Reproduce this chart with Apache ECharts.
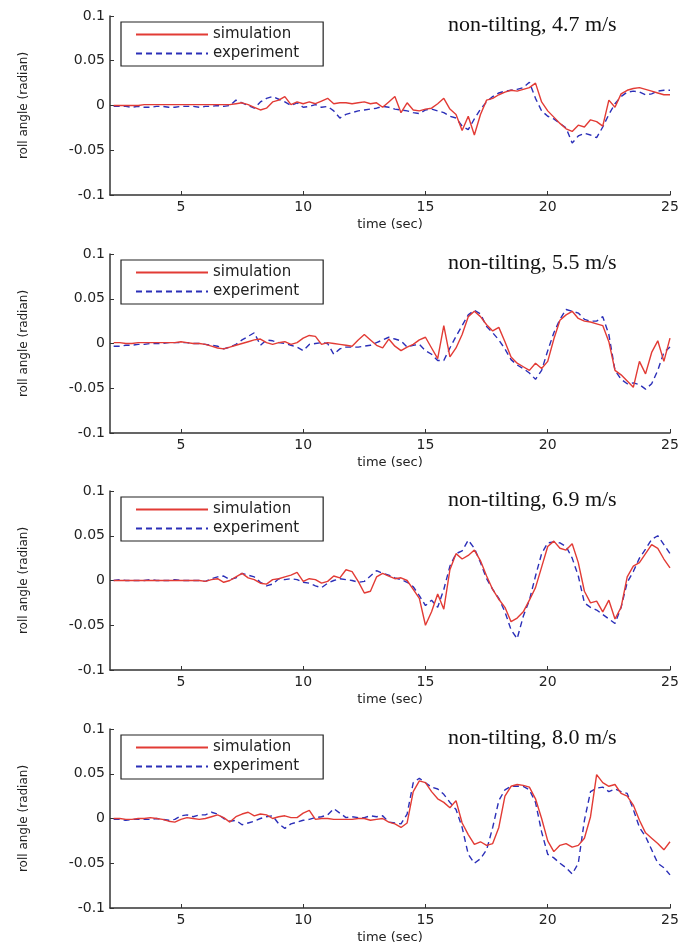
<!DOCTYPE html>
<html><head><meta charset="utf-8">
<script src="https://cdn.jsdelivr.net/npm/echarts@6/dist/echarts.min.js"></script>
<style>html,body{margin:0;padding:0;background:#fff}#c{width:683px;height:947px}</style>
</head><body><div id="c"></div>
<script>
const panelTitles = ["non-tilting, 4.7 m/s","non-tilting, 5.5 m/s","non-tilting, 6.9 m/s","non-tilting, 8.0 m/s"];
const seriesNames = ["simulation","experiment"];
const xTicks = [5,10,15,20,25];
const yTicks = [-0.1,-0.05,0,0.05,0.1];
const time = [2.25,2.5,2.75,3,3.25,3.5,3.75,4,4.25,4.5,4.75,5,5.25,5.5,5.75,6,6.25,6.5,6.75,7,7.25,7.5,7.75,8,8.25,8.5,8.75,9,9.25,9.5,9.75,10,10.25,10.5,10.75,11,11.25,11.5,11.75,12,12.25,12.5,12.75,13,13.25,13.5,13.75,14,14.25,14.5,14.75,15,15.25,15.5,15.75,16,16.25,16.5,16.75,17,17.25,17.5,17.75,18,18.25,18.5,18.75,19,19.25,19.5,19.75,20,20.25,20.5,20.75,21,21.25,21.5,21.75,22,22.25,22.5,22.75,23,23.25,23.5,23.75,24,24.25,24.5,24.75,25];

const sim1 = [0,0,0,0, 0,0.001,0.001,0.001, 0.001,0.001,0.001,0.001, 0.001,0.001,0.001,0.001, 0.001,0.001,0.001,0.001,
 0.002,0.003,0.001,-0.002, -0.005,-0.003,0.004,0.006, 0.01,0.001,0.004,0.002, 0.004,0.002,0.005,0.008, 0.002,0.003,0.003,0.002,
 0.003,0.004,0.002,0.003, -0.002,0.004,0.01,-0.008, 0.003,-0.005,-0.006,-0.004, -0.003,0.002,0.008,-0.004, -0.01,-0.028,-0.012,-0.033,
 -0.01,0.006,0.008,0.012, 0.015,0.017,0.016,0.018, 0.02,0.025,0.004,-0.006, -0.013,-0.02,-0.026,-0.029, -0.022,-0.024,-0.016,-0.018,
 -0.023,0.006,-0.002,0.013, 0.017,0.019,0.02,0.018, 0.016,0.014,0.012,0.012];
const exp1 = [-0.001,-0.001,-0.001,-0.002, -0.001,-0.002,-0.002,-0.001, -0.001,-0.002,-0.002,-0.001, -0.001,-0.001,-0.002,-0.001, -0.001,0,-0.001,0,
 0.006,0.003,0,-0.003, 0.004,0.008,0.01,0.007, 0.004,0,0.003,-0.002, -0.001,0.001,-0.002,-0.001, -0.006,-0.014,-0.01,-0.008,
 -0.006,-0.005,-0.004,-0.003, -0.001,-0.002,-0.004,-0.005, -0.006,-0.008,-0.009,-0.005, -0.004,-0.006,-0.008,-0.012, -0.014,-0.023,-0.027,-0.015,
 -0.004,0.004,0.01,0.014, 0.016,0.017,0.018,0.02, 0.026,0.008,-0.006,-0.012, -0.015,-0.02,-0.025,-0.042, -0.034,-0.031,-0.033,-0.036,
 -0.024,-0.01,0.002,0.01, 0.015,0.016,0.015,0.012, 0.013,0.016,0.017,0.017];

const sim2 = [0.001,0.001,0,0, 0.001,0.001,0.001,0.001, 0.001,0.001,0.001,0.002, 0.001,0,0,-0.001, -0.003,-0.005,-0.006,-0.004,
 -0.002,0,0.002,0.004, 0.005,0.001,-0.001,0.001, 0.002,-0.001,0.001,0.006, 0.009,0.008,-0.001,0.001, 0,-0.001,-0.002,-0.003,
 0.004,0.01,0.004,-0.002, -0.005,0.005,-0.003,-0.008, -0.004,-0.001,0.004,0.007, -0.005,-0.017,0.02,-0.015, -0.005,0.01,0.03,0.036,
 0.03,0.021,0.014,0.018, 0.002,-0.015,-0.022,-0.026, -0.03,-0.022,-0.028,-0.02, 0.005,0.026,0.032,0.036, 0.028,0.025,0.024,0.022,
 0.02,0.002,-0.03,-0.035, -0.042,-0.049,-0.02,-0.034, -0.01,0.003,-0.02,0.006];
const exp2 = [-0.003,-0.003,-0.002,-0.002, -0.001,-0.001,0,0, 0,0.001,0.001,0.001, 0.001,0,0,-0.001, -0.002,-0.003,-0.006,-0.004,
 -0.001,0.004,0.008,0.012, -0.002,0.004,0.003,0.001, 0,-0.002,-0.004,-0.008, -0.001,0,0.001,0, -0.012,-0.006,-0.004,-0.004,
 -0.004,-0.003,-0.002,0.001, 0.004,0.007,0.005,0.003, -0.004,-0.002,-0.001,-0.008, -0.012,-0.019,-0.019,-0.005, 0.008,0.02,0.032,0.037,
 0.033,0.019,0.012,0.004, -0.006,-0.018,-0.024,-0.028, -0.033,-0.04,-0.03,-0.008, 0.012,0.027,0.038,0.036, 0.034,0.027,0.025,0.025,
 0.03,0.01,-0.03,-0.04, -0.045,-0.044,-0.046,-0.051, -0.045,-0.03,-0.01,-0.004];

const sim3 = [0,0,0,0, 0,0,0,0, 0,0,0,0, 0,0,0,-0.001, 0.001,0.002,-0.002,0,
 0.004,0.008,0.003,0.001, -0.003,-0.004,0.001,0.002, 0.004,0.006,0.009,-0.001, 0.002,0.001,-0.003,-0.001, 0.005,0.003,0.012,0.01,
 -0.001,-0.014,-0.012,0.004, 0.008,0.005,0.002,0.003, 0,-0.01,-0.02,-0.05, -0.035,-0.015,-0.032,0.012, 0.03,0.024,0.028,0.034,
 0.022,0.005,-0.01,-0.021, -0.03,-0.046,-0.042,-0.035, -0.022,-0.008,0.015,0.038, 0.044,0.036,0.034,0.041, 0.02,-0.012,-0.025,-0.023,
 -0.035,-0.022,-0.043,-0.03, 0.004,0.016,0.02,0.03, 0.04,0.036,0.024,0.014];
const exp3 = [0,0.001,0,0, 0,0,0.001,0, 0,0,0.001,0, 0,0,0,-0.001, 0.002,0.004,0.005,0.001,
 0.003,0.008,0.006,0.004, -0.002,-0.006,-0.004,0.002, 0.001,0.002,0.001,-0.002, -0.003,-0.006,-0.008,-0.003, 0,0.002,0.001,0,
 -0.002,-0.001,0.005,0.011, 0.008,0.006,0.003,0.001, -0.002,-0.007,-0.017,-0.028, -0.022,-0.03,-0.01,0.016, 0.03,0.033,0.045,0.036,
 0.02,0.002,-0.01,-0.02, -0.035,-0.055,-0.065,-0.04, -0.022,0.005,0.03,0.042, 0.043,0.042,0.038,0.025, 0.005,-0.025,-0.03,-0.033,
 -0.038,-0.043,-0.048,-0.03, -0.002,0.01,0.025,0.035, 0.046,0.05,0.04,0.03];

const sim4 = [0,0,-0.001,-0.001, 0,0,0.001,0, -0.001,-0.003,-0.004,-0.001, 0.001,0,-0.001,0, 0.002,0.004,0.001,-0.004,
 0.002,0.005,0.007,0.003, 0.005,0.004,0,0.002, 0.003,0.001,0.001,0.006, 0.009,-0.001,0,0, -0.001,-0.001,-0.001,-0.001,
 0,0,-0.002,-0.001, 0,-0.004,-0.006,-0.01, -0.005,0.03,0.042,0.04, 0.03,0.022,0.018,0.012, 0.02,-0.005,-0.018,-0.029,
 -0.026,-0.03,-0.028,-0.01, 0.025,0.036,0.038,0.037, 0.035,0.022,0,-0.025, -0.037,-0.03,-0.028,-0.032, -0.03,-0.022,0.002,0.049,
 0.04,0.036,0.038,0.028, 0.025,0.015,-0.002,-0.016, -0.022,-0.028,-0.035,-0.026];
const exp4 = [-0.001,-0.001,-0.002,-0.001, -0.001,-0.001,-0.001,0, -0.001,-0.002,-0.001,0.003, 0.004,0.002,0.004,0.004, 0.007,0.005,0,-0.003,
 -0.002,-0.007,-0.005,-0.003, 0,0.002,0.003,-0.006, -0.011,-0.006,-0.004,-0.002, -0.001,0.001,0.002,0.004, 0.011,0.006,0.001,0.002,
 0.001,0.001,0.003,0.002, 0.003,-0.004,-0.005,-0.006, 0.005,0.04,0.045,0.04, 0.035,0.033,0.027,0.018, 0.01,-0.01,-0.04,-0.05,
 -0.045,-0.035,-0.01,0.02, 0.032,0.036,0.036,0.036, 0.032,0.018,-0.015,-0.04, -0.044,-0.05,-0.055,-0.062, -0.05,-0.002,0.03,0.034,
 0.035,0.03,0.033,0.03, 0.028,0.01,-0.01,-0.02, -0.035,-0.05,-0.055,-0.063];

const simData = [sim1, sim2, sim3, sim4];
const expData = [exp1, exp2, exp3, exp4];

const gridTops = [16, 254, 491, 729];
const gridH = 179;
const RED = '#e23b35', BLUE = '#2b2fb8';
const axisFont = 'DejaVu Sans';

const chart = echarts.init(document.getElementById('c'), null, {renderer: 'canvas'});
const grids = [], xAxes = [], yAxes = [], series = [], titles = [], legends = [];
for (let k = 0; k < 4; k++) {
  grids.push({left: 110, right: 13, top: gridTops[k], height: gridH, containLabel: false});
  xAxes.push({
    type: 'value', gridIndex: k, min: 2.1, max: 25,
    name: 'time (sec)', nameLocation: 'middle', nameGap: 23,
    nameTextStyle: {fontFamily: axisFont, fontSize: 13, color: '#222'},
    axisLine: {show: true, onZero: false, lineStyle: {color: '#333', width: 1.5}},
    axisTick: {show: true, inside: true, length: 4, customValues: xTicks, lineStyle: {color: '#333'}},
    axisLabel: {customValues: xTicks, fontFamily: axisFont, fontSize: 14, color: '#222', margin: 5},
    splitLine: {show: false}
  });
  yAxes.push({
    type: 'value', gridIndex: k, min: -0.1, max: 0.1, interval: 0.05,
    name: 'roll angle (radian)', nameLocation: 'middle', nameRotate: 90, nameGap: 80,
    nameTextStyle: {fontFamily: axisFont, fontSize: 12, color: '#222'},
    axisLine: {show: true, onZero: false, lineStyle: {color: '#333', width: 1.5}},
    axisTick: {show: true, inside: true, length: 4, lineStyle: {color: '#333'}},
    axisLabel: {customValues: yTicks, fontFamily: axisFont, fontSize: 14, color: '#222', margin: 5},
    splitLine: {show: false}
  });
  series.push({
    name: seriesNames[0], type: 'line', xAxisIndex: k, yAxisIndex: k,
    data: time.map((t, i) => [t, simData[k][i]]),
    showSymbol: false, symbol: 'none', lineStyle: {color: RED, width: 1.4}, itemStyle: {color: RED}, z: 3
  });
  series.push({
    name: seriesNames[1], type: 'line', xAxisIndex: k, yAxisIndex: k,
    data: time.map((t, i) => [t, expData[k][i]]),
    showSymbol: false, symbol: 'none', lineStyle: {color: BLUE, width: 1.4, type: [6, 4]}, itemStyle: {color: BLUE}, z: 2
  });
  titles.push({
    text: panelTitles[k], left: 443, top: gridTops[k] - 7,
    textStyle: {fontFamily: 'Liberation Serif', fontSize: 22, fontWeight: 'normal', color: '#111'}
  });
  legends.push({
    data: seriesNames, orient: 'vertical', left: 121, top: gridTops[k] + 6,
    itemWidth: 72, itemHeight: 14, itemGap: 4,
    borderColor: '#222', borderWidth: 1.2, padding: [5, 24, 5, 14],
    itemStyle: {opacity: 0},
    textStyle: {fontFamily: axisFont, fontSize: 15, color: '#222'},
    selectedMode: false
  });
}
chart.setOption({
  animation: false,
  backgroundColor: '#fff',
  title: titles, legend: legends, grid: grids, xAxis: xAxes, yAxis: yAxes, series: series
});
</script></body></html>
